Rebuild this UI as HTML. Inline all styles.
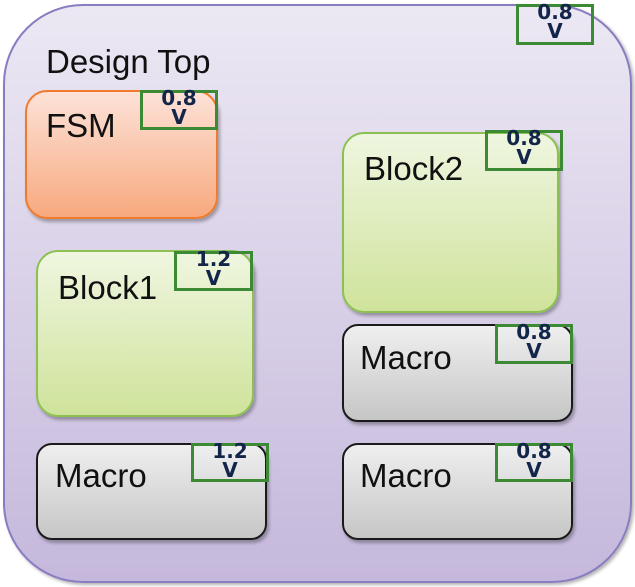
<!DOCTYPE html>
<html><head><style>
body{margin:0;width:635px;height:587px;background:#fff;position:relative;overflow:hidden;font-family:"Liberation Sans",sans-serif}
.b{position:absolute;box-sizing:border-box}
.outer{left:3px;top:4px;width:629px;height:579px;border:2px solid #8a7cc0;border-radius:80px;background:linear-gradient(#ece8f3,#c5b8dc);box-shadow:2px 2px 3px rgba(0,0,0,.3)}
.fsm{border:2px solid #f07b2c;border-radius:22px;background:linear-gradient(#fde2d8,#f7a97e);box-shadow:2px 3px 3px rgba(0,0,0,.3)}
.grn{border:2px solid #8cc052;border-radius:22px;background:linear-gradient(#eff6e0,#cfe39b);box-shadow:2px 3px 3px rgba(0,0,0,.3)}
.gry{border:2px solid #1a1a1a;border-radius:16px;background:linear-gradient(#efefef,#c6c6c6);box-shadow:2px 3px 3px rgba(0,0,0,.3)}
.v{border:3px solid #3d8a35;text-align:center;font-weight:bold;color:#14254a;font-size:20px;line-height:19px;font-family:"DejaVu Sans","Liberation Sans",sans-serif;overflow:visible}
.v span{position:relative;top:-4px}
.t{position:absolute;font-size:33px;color:#111;white-space:nowrap}
</style></head><body>
<div class="b outer"></div>
<div class="t" style="left:46px;top:43px">Design Top</div>
<div class="b fsm" style="left:25px;top:90px;width:193px;height:129px"></div>
<div class="t" style="left:46px;top:107px">FSM</div>
<div class="b grn" style="left:342px;top:132px;width:217px;height:181px"></div>
<div class="t" style="left:364px;top:150px">Block2</div>
<div class="b grn" style="left:36px;top:250px;width:218px;height:167px"></div>
<div class="t" style="left:58px;top:269px">Block1</div>
<div class="b gry" style="left:36px;top:443px;width:231px;height:97px"></div>
<div class="t" style="left:55px;top:457px">Macro</div>
<div class="b gry" style="left:342px;top:324px;width:231px;height:98px"></div>
<div class="t" style="left:360px;top:339px">Macro</div>
<div class="b gry" style="left:342px;top:443px;width:231px;height:97px"></div>
<div class="t" style="left:360px;top:457px">Macro</div>
<div class="b v" style="left:516px;top:4px;width:78px;height:41px"><span>0.8<br>V</span></div>
<div class="b v" style="left:140px;top:90px;width:78px;height:40px"><span>0.8<br>V</span></div>
<div class="b v" style="left:485px;top:130px;width:78px;height:41px"><span>0.8<br>V</span></div>
<div class="b v" style="left:174px;top:251px;width:79px;height:40px"><span>1.2<br>V</span></div>
<div class="b v" style="left:191px;top:443px;width:78px;height:39px"><span>1.2<br>V</span></div>
<div class="b v" style="left:495px;top:324px;width:78px;height:40px"><span>0.8<br>V</span></div>
<div class="b v" style="left:495px;top:443px;width:78px;height:39px"><span>0.8<br>V</span></div>
</body></html>
